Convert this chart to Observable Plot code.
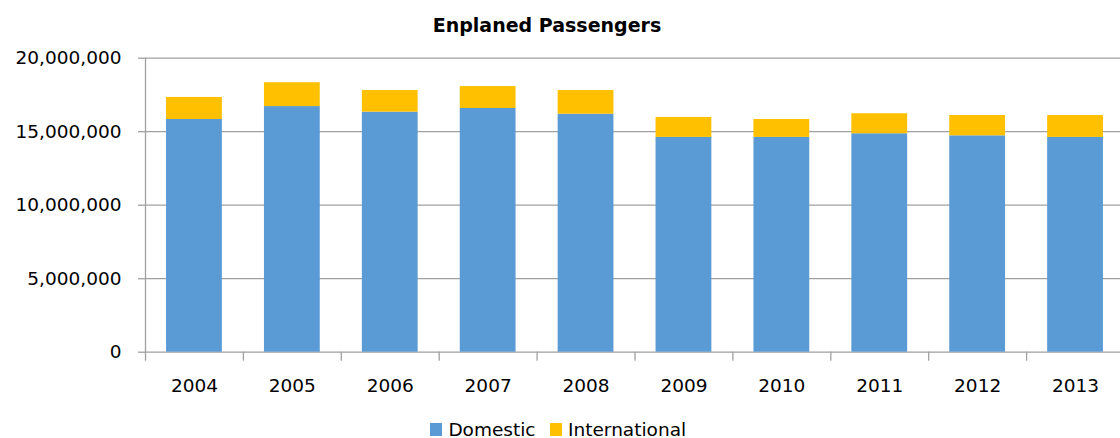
<!DOCTYPE html>
<html>
<head>
<meta charset="utf-8">
<script src="https://cdn.jsdelivr.net/npm/d3@7"></script>
<script src="https://cdn.jsdelivr.net/npm/@observablehq/plot@0.6"></script>
<style>
  html, body { margin: 0; padding: 0; background: #fff; overflow: hidden; }
  body { width: 1120px; height: 438px; font-family: "DejaVu Sans", sans-serif; color: #000; }
  #title {
    height: 44px; box-sizing: border-box; padding-top: 14px; padding-right: 26px;
    text-align: center; font-weight: bold; font-size: 19px; line-height: 22px;
  }
  #chart svg { display: block; }
  #legend {
    height: 28px; box-sizing: border-box; padding-top: 9px; padding-right: 4px;
    text-align: center; font-size: 18.5px; line-height: 22px; white-space: nowrap;
  }
  .item { display: inline-block; margin: 0 7px; }
  .swatch { display: inline-block; width: 12.5px; height: 13px; margin-right: 6px; }
</style>
</head>
<body>
<div id="title">Enplaned Passengers</div>
<div id="chart"></div>
<div id="legend"></div>
<script>
// Enplaned passengers per year, split by domestic and international traffic
const years = ["2004", "2005", "2006", "2007", "2008", "2009", "2010", "2011", "2012", "2013"];
const domestic = [15830000, 16710000, 16330000, 16580000, 16190000, 14610000, 14610000, 14860000, 14720000, 14610000];
const international = [1500000, 1620000, 1470000, 1490000, 1610000, 1360000, 1220000, 1360000, 1380000, 1490000];
const seriesNames = ["Domestic", "International"];
const seriesColors = ["#5B9BD5", "#FFC000"];
const yTicks = [0, 5000000, 10000000, 15000000, 20000000];

const gridColor = "#a0a0a0";

// Long-format table for the stacked bars
const rows = [];
years.forEach((year, i) => {
  rows.push({year, type: seriesNames[0], value: domestic[i]});
  rows.push({year, type: seriesNames[1], value: international[i]});
});

// Band layout: bars take 57% of each category slot
const xRange = [145, 1124];
const paddingInner = 0.43;
const paddingOuter = paddingInner / 2;
const step = (xRange[1] - xRange[0]) / (years.length - paddingInner + 2 * paddingOuter);

const chart = Plot.plot({
  width: 1120,
  height: 366,
  marginLeft: 145,
  marginRight: 0,
  marginTop: 13.7,
  marginBottom: 58.3,
  style: {fontFamily: "DejaVu Sans, sans-serif", fontSize: "18.5px", background: "white", color: "#000", overflow: "visible"},
  x: {domain: years, range: xRange, paddingInner, paddingOuter, round: false, label: null},
  y: {domain: [0, 20000000], label: null},
  color: {domain: seriesNames, range: seriesColors},
  marks: [
    Plot.gridY(yTicks, {stroke: gridColor, strokeOpacity: 1, strokeWidth: 1.3}),
    Plot.barY(rows, {x: "year", y: "value", fill: "type"}),
    // vertical value axis line, extended below the baseline like the category ticks
    Plot.ruleX([years[0]], {x: d => d, dx: -step / 2, y1: 20000000, y2: 0, insetBottom: -9, stroke: gridColor, strokeWidth: 1.3}),
    // category boundary ticks
    Plot.ruleX(years.slice(1), {x: d => d, dx: -step / 2, y1: 0, y2: 0, insetBottom: -9, stroke: gridColor, strokeWidth: 1.3}),
    Plot.axisY(yTicks, {tickSize: 7, tickPadding: 17, tickFormat: d3.format(","), stroke: gridColor, strokeWidth: 1.3, fill: "#000", label: null}),
    Plot.axisX({tickSize: 0, tickPadding: 27, fill: "#000", label: null})
  ]
});
document.getElementById("chart").append(chart);

// Legend below the chart
const legend = document.getElementById("legend");
seriesNames.forEach((name, i) => {
  const item = document.createElement("span");
  item.className = "item";
  const sw = document.createElement("span");
  sw.className = "swatch";
  sw.style.background = seriesColors[i];
  item.append(sw, document.createTextNode(name));
  legend.append(item);
});
</script>
</body>
</html>
